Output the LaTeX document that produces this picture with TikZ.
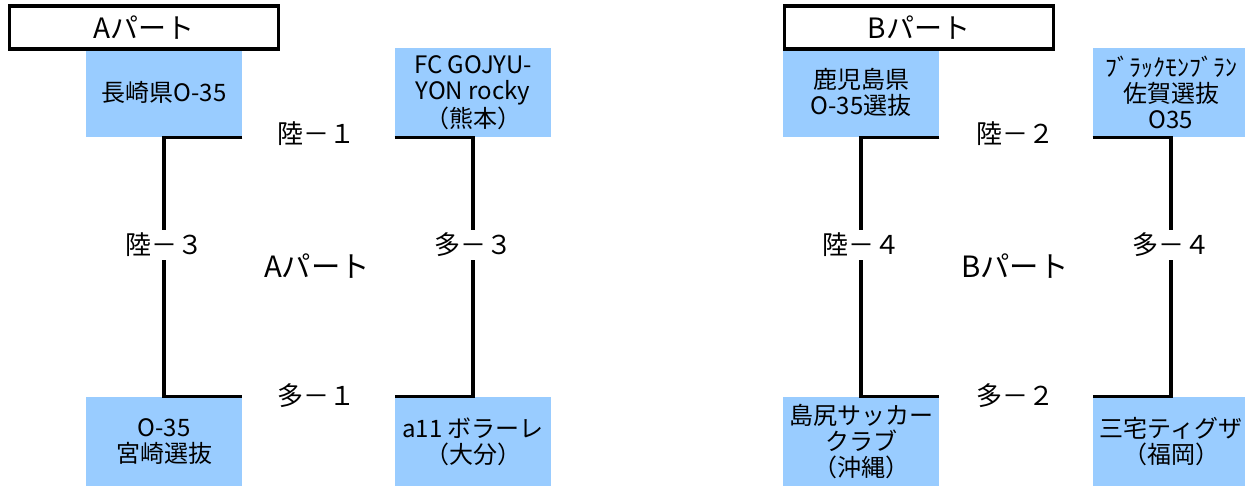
\documentclass[tikz,border=0pt]{standalone}
\usepackage{fontspec}
\setmainfont{Noto Sans CJK JP}
\usetikzlibrary{calc}
\definecolor{teamblue}{HTML}{99CCFF}
\begin{document}
\begin{tikzpicture}[x=0.75pt, y=-0.75pt,
        team/.style={rectangle, fill=teamblue, minimum width=117pt, minimum height=66.75pt, inner sep=0pt, align=center, font=\fontsize{18}{19.5}\selectfont},
        title/.style={rectangle, draw, line width=2.6pt, fill=white, minimum width=202pt, minimum height=32pt, inner sep=0pt, font=\fontsize{21}{22}\selectfont},
        bracket/.style={line width=2.3pt},
        game/.style={fill=white, inner sep=2pt, font=\fontsize{19.5}{20}\selectfont},
        part/.style={font=\fontsize{22}{24}\selectfont}
    ]
        \useasboundingbox (0,0) rectangle (1245,486);

        % A part
        \node[team] (a1) at (164,92.5) {長崎県O-35};
        \node[team] (a2) at (473,92.5) {FC GOJYU-\\YON rocky\\（熊本）};
        \node[team] (a3) at (164,441.5) {O-35\\宮崎選抜};
        \node[team] (a4) at (473,441.5) {a11 ボラーレ\\（大分）};
        \node[title] (ta) at (144,27.5) {Aパート};

        \draw[bracket] (a1.south east) -- (a1.south) -- (a3.north) -- (a3.north east);
        \draw[bracket] (a2.south west) -- (a2.south) -- (a4.north) -- (a4.north west);

        \node[game] (g1) at (316,134) {陸－１};
        \node[game] (g3) at ($(a1.south)!0.415!(a3.north)$) {陸－３};
        \node[game] (g5) at ($(a2.south)!0.415!(a4.north)$) {多－３};
        \node[game] (g2) at (316,396) {多－１};
        \node[part] (pa) at (317,266) {Aパート};

        % B part
        \node[team] (b1) at (861,92.5) {鹿児島県\\O-35選抜};
        \node[team] (b2) at (1171,92.5) {ﾌﾞﾗｯｸﾓﾝﾌﾞﾗﾝ\\佐賀選抜\\O35};
        \node[team] (b3) at (861,441.5) {島尻サッカー\\クラブ\\（沖縄）};
        \node[team] (b4) at (1171,441.5) {三宅ティグザ\\（福岡）};
        \node[title] (tb) at (919,27.5) {Bパート};

        \draw[bracket] (b1.south east) -- (b1.south) -- (b3.north) -- (b3.north east);
        \draw[bracket] (b2.south west) -- (b2.south) -- (b4.north) -- (b4.north west);

        \node[game] (h1) at (1015,134) {陸－２};
        \node[game] (h3) at ($(b1.south)!0.415!(b3.north)$) {陸－４};
        \node[game] (h5) at ($(b2.south)!0.415!(b4.north)$) {多－４};
        \node[game] (h2) at (1015,396) {多－２};
        \node[part] (pb) at (1015,266) {Bパート};
    \end{tikzpicture}
\end{document}
